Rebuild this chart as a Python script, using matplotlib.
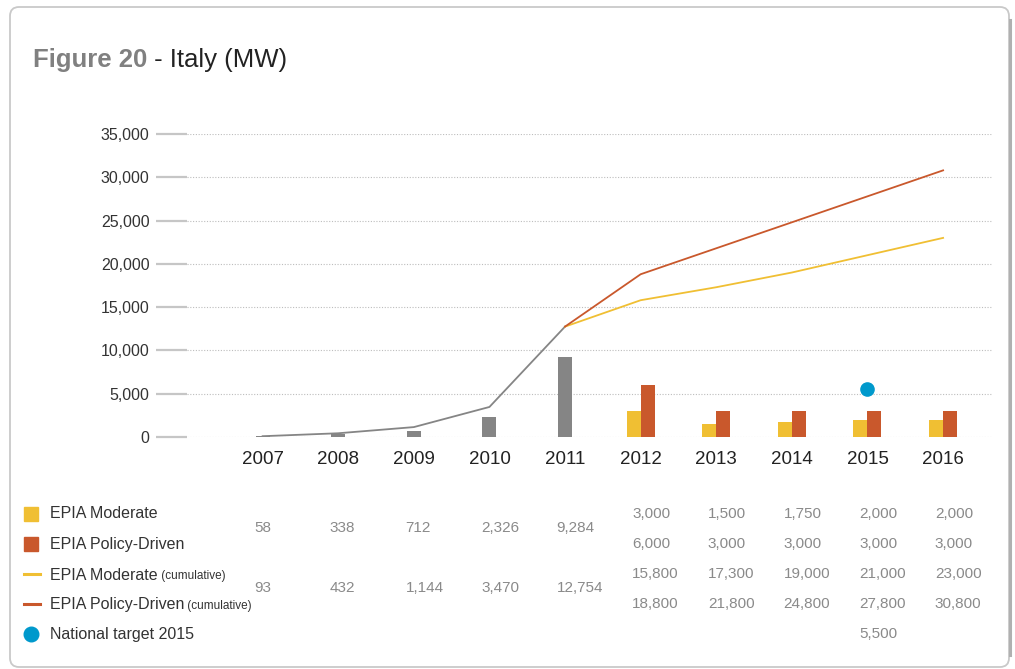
import matplotlib
matplotlib.use("Agg")
import matplotlib.pyplot as plt
import matplotlib.transforms as mtransforms
from matplotlib.patches import FancyBboxPatch, Rectangle
from matplotlib.lines import Line2D
from matplotlib.ticker import FuncFormatter

plt.rcParams['font.family'] = ['Liberation Sans', 'DejaVu Sans']

# historical data
years_hist = [2007, 2008, 2009, 2010, 2011]
annual_hist = [58, 338, 712, 2326, 9284]
cumul_hist = [93, 432, 1144, 3470, 12754]

# EPIA scenarios
years_fc = [2012, 2013, 2014, 2015, 2016]
moderate = [3000, 1500, 1750, 2000, 2000]
policy = [6000, 3000, 3000, 3000, 3000]
moderate_cum = [15800, 17300, 19000, 21000, 23000]
policy_cum = [18800, 21800, 24800, 27800, 30800]

target_year = 2015
target_value = 5500

c_grey = '#858585'
c_yel = '#f0bf33'
c_red = '#c9582c'
c_blue = '#0099cc'
c_txt = '#333333'
c_num = '#8a8a8a'

W, H = 1015, 669
fig = plt.figure(figsize=(W / 100, H / 100), dpi=100)
fx = lambda x: x / W
fy = lambda y: 1 - y / H

# card background
card = FancyBboxPatch((10 / 100, 2 / 100), 999 / 100, 660 / 100,
                      boxstyle='round,pad=0,rounding_size=0.09',
                      transform=fig.dpi_scale_trans, fc='white',
                      ec='#c9c9c9', lw=1.3, zorder=0)
fig.add_artist(card)
fig.add_artist(Line2D([fx(1009.5)] * 2, [fy(20), fy(655)], color='#b0b0b0',
                      lw=2.2, transform=fig.transFigure))

ax = fig.add_axes([fx(187), fy(437), 806 / W, 303 / H])
ax.patch.set_alpha(0)
ax.set_xlim(2006.0, 2016.66)
ax.set_ylim(0, 35000)

# title
t1 = fig.text(fx(33), fy(67), 'Figure 20', fontsize=18.5, fontweight='bold',
              color='#808080', va='baseline')
ax.annotate(' - Italy (MW)', xy=(1, 0), xycoords=t1, va='bottom', ha='left',
            fontsize=18.5, color='#222222', annotation_clip=False)

bw = 14 / 75.6
ax.bar(years_hist, annual_hist, width=bw, color=c_grey, zorder=3)
ax.bar([y - bw / 2 for y in years_fc], moderate, width=bw, color=c_yel, zorder=3)
ax.bar([y + bw / 2 for y in years_fc], policy, width=bw, color=c_red, zorder=3)

ax.plot(years_hist, cumul_hist, color=c_grey, lw=1.3, zorder=4)
ax.plot([years_hist[-1]] + years_fc, [cumul_hist[-1]] + moderate_cum,
        color=c_yel, lw=1.3, zorder=4)
ax.plot([years_hist[-1]] + years_fc, [cumul_hist[-1]] + policy_cum,
        color=c_red, lw=1.3, zorder=4)
ax.plot([target_year], [target_value], 'o', color=c_blue, ms=9.5, zorder=5)

ax.set_yticks(range(0, 35001, 5000))
ax.yaxis.set_major_formatter(FuncFormatter(lambda v, p: f'{int(v):,}'))
ax.set_xticks(years_hist + years_fc)
ax.yaxis.grid(True, linestyle=(0, (1, 1.5)), color='#bdbdbd', lw=0.8)
ax.set_axisbelow(True)
ax.tick_params(axis='y', length=22, width=1.6, color='#c6c6c6', pad=5,
               labelsize=11.5, labelcolor=c_txt)
ax.tick_params(axis='x', length=0, pad=10, labelsize=13.5, labelcolor='#222222')
for s in ax.spines.values():
    s.set_visible(False)

# legend drawn by hand
def label(y, main, small=None):
    t = fig.text(fx(50), fy(y), main, fontsize=11.5, color=c_txt, va='center')
    if small:
        ax.annotate(' ' + small, xy=(1, 0), xycoords=t, va='bottom',
                    fontsize=8.5, color=c_txt, annotation_clip=False)

fig.add_artist(Rectangle((fx(24), fy(521)), 14 / W, 14 / H, color=c_yel,
                         transform=fig.transFigure))
label(514, 'EPIA Moderate')
fig.add_artist(Rectangle((fx(24), fy(551)), 14 / W, 14 / H, color=c_red,
                         transform=fig.transFigure))
label(544, 'EPIA Policy-Driven')
fig.add_artist(Line2D([fx(24), fx(40)], [fy(574)] * 2, color=c_yel, lw=2.2,
                      transform=fig.transFigure))
label(575, 'EPIA Moderate', '(cumulative)')
fig.add_artist(Line2D([fx(24), fx(40)], [fy(604)] * 2, color=c_red, lw=2.2,
                      transform=fig.transFigure))
label(605, 'EPIA Policy-Driven', '(cumulative)')
fig.add_artist(Line2D([fx(31)], [fy(634)], marker='o', ms=10.5, color=c_blue,
                      transform=fig.transFigure))
label(634, 'National target 2015')

# table of values
trans = mtransforms.blended_transform_factory(ax.transData, fig.transFigure)

def row(years, vals, y):
    for yr, v in zip(years, vals):
        fig.text(yr - 0.11, fy(y), f'{v:,}', transform=trans, fontsize=11,
                 color=c_num, va='center', ha='left')

row(years_hist, annual_hist, 528)
row(years_hist, cumul_hist, 588)
row(years_fc, moderate, 514)
row(years_fc, policy, 544)
row(years_fc, moderate_cum, 574)
row(years_fc, policy_cum, 604)
row([target_year], [target_value], 634)

fig.savefig('out.png', dpi=100)
